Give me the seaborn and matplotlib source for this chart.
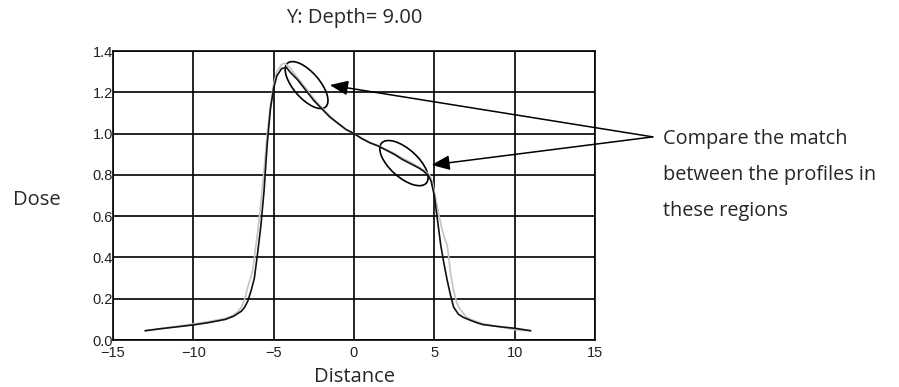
import numpy as np
import pandas as pd
import seaborn as sns
import matplotlib
matplotlib.use("Agg")
from matplotlib import pyplot as plt
from matplotlib.patches import Ellipse
from matplotlib.transforms import ScaledTranslation

# measured profile (black)
meas_x = [-13, -12, -11, -10, -9, -8, -7.5, -7, -6.8, -6.6, -6.4, -6.2, -6.0, -5.8,
          -5.6, -5.4, -5.2, -5.0, -4.8, -4.5, -4.2, -4.0, -3.5, -3.0, -2.5, -2.0,
          -1.5, -1.0, -0.5, 0, 0.5, 1.0, 1.5, 2.0, 2.5, 3.0, 3.5, 4.0, 4.3, 4.6,
          4.8, 5.0, 5.2, 5.4, 5.6, 5.8, 6.0, 6.2, 6.5, 6.8, 7.2, 7.6, 8, 9, 10, 11]
meas_y = [0.045, 0.055, 0.064, 0.073, 0.085, 0.10, 0.115, 0.14, 0.16, 0.19, 0.24,
          0.30, 0.42, 0.55, 0.72, 0.95, 1.12, 1.22, 1.28, 1.315, 1.32, 1.30, 1.26,
          1.21, 1.16, 1.12, 1.08, 1.05, 1.02, 1.0, 0.975, 0.955, 0.94, 0.92, 0.90,
          0.875, 0.855, 0.835, 0.82, 0.80, 0.77, 0.70, 0.58, 0.46, 0.37, 0.29, 0.22,
          0.16, 0.125, 0.11, 0.097, 0.085, 0.075, 0.065, 0.057, 0.045]

# calculated profile (light grey)
calc_x = [-13, -12, -11, -10, -9, -8, -7.5, -7.2, -7.0, -6.8, -6.6, -6.4, -6.3,
          -6.2, -6.0, -5.8, -5.6, -5.4, -5.2, -5.0, -4.8, -4.5, -4.3, -4.0, -3.5,
          -3.0, -2.5, -2.0, -1.5, -1.0, -0.5, 0, 0.5, 1.0, 1.5, 2.0, 2.5, 3.0, 3.5,
          4.0, 4.4, 4.7, 4.9, 5.1, 5.3, 5.5, 5.7, 5.8, 5.9, 6.0, 6.2, 6.4, 6.6,
          7.0, 7.5, 8, 9, 10, 10.5, 11]
calc_y = [0.045, 0.056, 0.066, 0.078, 0.09, 0.105, 0.12, 0.14, 0.16, 0.20, 0.26,
          0.31, 0.34, 0.40, 0.52, 0.66, 0.82, 1.00, 1.14, 1.24, 1.30, 1.335, 1.34,
          1.32, 1.27, 1.22, 1.17, 1.125, 1.085, 1.05, 1.02, 1.0, 0.977, 0.957,
          0.942, 0.923, 0.905, 0.882, 0.862, 0.84, 0.82, 0.80, 0.76, 0.68, 0.60,
          0.53, 0.48, 0.46, 0.40, 0.33, 0.24, 0.18, 0.15, 0.11, 0.093, 0.08,
          0.065, 0.05, 0.046, 0.045]

x_ticks = [-15, -10, -5, 0, 5, 10, 15]
y_ticks = [0.0, 0.2, 0.4, 0.6, 0.8, 1.0, 1.2, 1.4]

note = "Compare the match\nbetween the profiles in\nthese regions"

sns.set_style("white")
plt.rcParams["font.family"] = ["Open Sans", "DejaVu Sans"]

profiles = pd.concat([
    pd.DataFrame({"Distance": calc_x, "Dose": calc_y, "profile": "calculated"}),
    pd.DataFrame({"Distance": meas_x, "Dose": meas_y, "profile": "measured"}),
])

fig = plt.figure(figsize=(8.99, 3.87), dpi=100)
ax = fig.add_axes([0.1257, 0.1214, 0.5361, 0.7468])

sns.lineplot(data=profiles, x="Distance", y="Dose", hue="profile",
             palette={"calculated": "#c4c4c4", "measured": "#111111"},
             linewidth=1.2, sort=False, legend=False, ax=ax)

ax.set_xlim(-15, 15)
ax.set_ylim(0, 1.4)
ax.set_xticks(x_ticks)
ax.set_yticks(y_ticks)
ax.set_xticklabels([f"{t:d}".replace("-", "\u2212") for t in x_ticks],
                   family="Liberation Sans", fontsize=10.5, color="#222222")
ax.set_yticklabels([f"{t:.1f}" for t in y_ticks],
                   family="Liberation Sans", fontsize=10.5, color="#222222")
ax.tick_params(axis="both", length=0)
ax.tick_params(axis="y", pad=0)
ax.tick_params(axis="x", pad=4)
ax.grid(True, color="black", linewidth=1.2)
for s in ax.spines.values():
    s.set_color("black")
    s.set_linewidth(1.2)
ax.set_xlabel("")
ax.set_ylabel("")

fig.text(0.394, 0.953, "Y: Depth= 9.00", ha="center", va="center", fontsize=14.5)
fig.text(0.394, 0.026, "Distance", ha="center", va="center", fontsize=14.5)
fig.text(0.0145, 0.483, "Dose", ha="left", va="center", fontsize=14.5)

# highlight ellipses (size in pixels, centred on data points)
for cx, cy, w, h, ang in [(-2.95, 1.235, 58, 26, -49), (3.11, 0.857, 60, 28, -42)]:
    ax.add_patch(Ellipse((0, 0), w, h, angle=ang, fill=False, edgecolor="black",
                         linewidth=1.2,
                         transform=ScaledTranslation(cx, cy, ax.transData),
                         clip_on=False))

for hx, hy in [(-1.5, 1.235), (4.83, 0.848)]:
    ax.annotate("", xy=(hx, hy), xytext=(18.6, 0.984), xycoords="data",
                textcoords="data", annotation_clip=False,
                arrowprops=dict(arrowstyle="-|>,head_length=1.1,head_width=0.45",
                                color="black", linewidth=1.1,
                                shrinkA=0, shrinkB=0))

fig.text(0.7375, 0.667, note, ha="left", va="top", fontsize=14.3, linespacing=2.08)

fig.savefig("out.png", dpi=100)
